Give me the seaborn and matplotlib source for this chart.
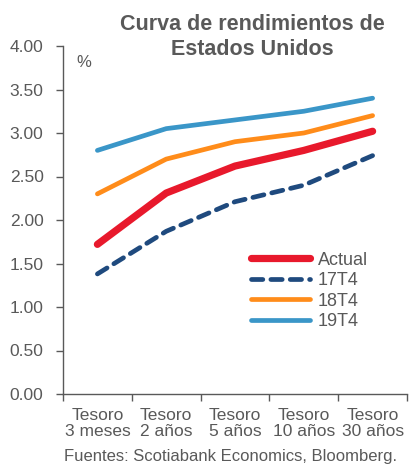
import matplotlib
matplotlib.use("Agg")
import matplotlib.pyplot as plt
import seaborn as sns
import pandas as pd
import numpy as np
from matplotlib.lines import Line2D

categories = ["Tesoro\n3 meses", "Tesoro\n2 años", "Tesoro\n5 años", "Tesoro\n10 años", "Tesoro\n30 años"]
actual = [1.72, 2.31, 2.62, 2.80, 3.02]
t17 = [1.38, 1.87, 2.21, 2.40, 2.74]
t18 = [2.30, 2.70, 2.90, 3.00, 3.20]
t19 = [2.80, 3.05, 3.15, 3.25, 3.40]
series_names = ["Actual", "17T4", "18T4", "19T4"]
yticks = [0.0, 0.5, 1.0, 1.5, 2.0, 2.5, 3.0, 3.5, 4.0]

sns.set_theme(style="white")
plt.rcParams['font.family'] = ['Liberation Sans', 'DejaVu Sans']
gray = "#595959"

rows = []
for name, vals in zip(series_names, [actual, t17, t18, t19]):
    for i, v in enumerate(vals):
        rows.append({"x": i, "y": v, "serie": name})
df = pd.DataFrame(rows)

palette = {"Actual": "#E8192C", "17T4": "#1F4A7E", "18T4": "#FF8C1A", "19T4": "#3A96C8"}
dashes = {"Actual": "", "17T4": (2.4, 1.7), "18T4": "", "19T4": ""}
sizes = {"Actual": 5.2, "17T4": 3.4, "18T4": 3.4, "19T4": 3.4}

fig = plt.figure(figsize=(4.09, 4.66), dpi=100)
ax = fig.add_axes([63/409, 1 - 394/466, (407-63)/409, (394-46)/466])

sns.lineplot(data=df, x="x", y="y", hue="serie", style="serie", size="serie",
             palette=palette, dashes=dashes, sizes=sizes, hue_order=series_names,
             style_order=series_names, size_order=series_names, ax=ax, legend=False)
for ln in ax.get_lines():
    ln.set_solid_capstyle("round")
    ln.set_dash_capstyle("round")

ax.set_xlim(-0.5, 4.5)
ax.set_ylim(0, 4.0)
ax.set_yticks(yticks)
ax.set_yticklabels([f"{t:.2f}" for t in yticks], color=gray, fontsize=12.5)
ax.set_xticks(np.arange(-0.5, 5.0, 1.0))
ax.set_xticklabels([])
ax.set_xticks(range(len(categories)), minor=True)
ax.set_xticklabels(categories, minor=True, color=gray, fontsize=12.5, linespacing=1.1)
ax.tick_params(axis="x", which="minor", length=0, pad=10)
ax.tick_params(axis="x", which="major", length=5, width=1, color=gray, direction="out", bottom=True)
ax.tick_params(axis="y", length=5, width=1, color=gray, direction="out", left=True, pad=9)
for s in ["top", "right"]:
    ax.spines[s].set_visible(False)
for s in ["left", "bottom"]:
    ax.spines[s].set_color(gray)
    ax.spines[s].set_linewidth(1)
ax.set_xlabel("")
ax.set_ylabel("")

ax.text(0.04, 0.975, "%", transform=ax.transAxes, color=gray, fontsize=12, ha="left", va="top")

fig.text(252/409, 1 - 37/466, "Curva de rendimientos de\nEstados Unidos", ha="center", va="center",
         color=gray, fontsize=15.5, fontweight="bold", linespacing=1.2)
fig.text(231/409, 1 - 457/466, "Fuentes: Scotiabank Economics, Bloomberg.", ha="center", va="center",
         color=gray, fontsize=12)

handles = [Line2D([0], [0], color=palette[n], lw=sizes[n],
                  solid_capstyle="round", dash_capstyle="round",
                  linestyle=(0, dashes[n]) if dashes[n] else "-")
           for n in series_names]
leg = ax.legend(handles, series_names, loc="upper left", bbox_to_anchor=(0.525, 0.43),
                frameon=False, fontsize=13, handlelength=3.3, handletextpad=0.4,
                labelspacing=0.2, borderaxespad=0)
for t in leg.get_texts():
    t.set_color(gray)

fig.savefig("out.png", dpi=100)
